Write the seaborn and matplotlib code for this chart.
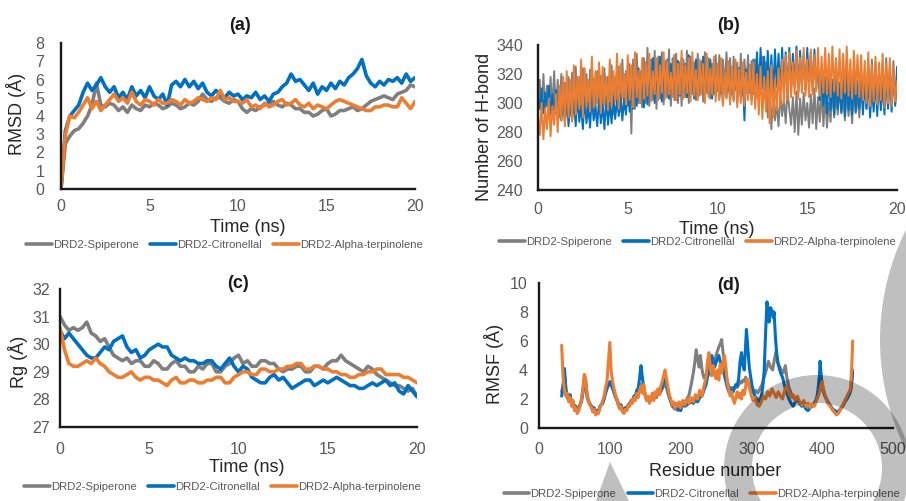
import numpy as np
import pandas as pd
import matplotlib
matplotlib.use('Agg')
import matplotlib.pyplot as plt
import seaborn as sns
from matplotlib.lines import Line2D
from matplotlib.patches import Wedge, Polygon

series_names = ['DRD2-Spiperone', 'DRD2-Citronellal', 'DRD2-Alpha-terpinolene']
series_colors = ['#7F7F7F', '#0070C0', '#ED7D31']

# (a) RMSD, one value every 0.25 ns
time_a = np.linspace(0, 20, 81)
rmsd_spiperone = [0, 2.5, 2.9, 3.2, 3.3, 3.6, 4.0, 4.6, 5.8, 4.6,
                  4.5, 4.7, 4.6, 4.3, 4.5, 4.2, 4.6, 4.4, 4.3, 4.6,
                  4.5, 4.7, 4.6, 4.4, 4.5, 4.7, 4.6, 4.4, 4.5, 4.7,
                  4.6, 4.8, 5.2, 4.9, 4.8, 5.0, 5.0, 4.8, 4.7, 4.9,
                  4.8, 4.4, 4.2, 4.4, 4.3, 4.5, 4.6, 4.7, 4.8, 4.6,
                  4.5, 4.7, 4.6, 4.4, 4.4, 4.2, 4.2, 4.0, 4.1, 4.3,
                  4.4, 4.0, 4.1, 4.3, 4.3, 4.4, 4.5, 4.3, 4.4, 4.6,
                  4.8, 4.9, 5.0, 5.1, 5.0, 4.9, 5.2, 5.3, 5.4, 5.7,
                  5.6]
rmsd_citronellal = [0, 3.2, 4.0, 4.3, 4.6, 5.3, 5.8, 5.4, 5.7, 6.1,
                    5.6, 5.3, 5.6, 5.0, 5.3, 4.9, 5.6, 5.1, 5.4, 5.0,
                    5.6, 5.1, 4.9, 5.2, 4.6, 5.7, 5.9, 5.6, 6.0, 5.6,
                    5.9, 5.5, 5.8, 5.3, 5.1, 5.4, 5.2, 5.0, 5.3, 5.1,
                    5.2, 4.9, 5.1, 5.0, 5.3, 4.9, 5.1, 4.8, 5.2, 5.3,
                    5.6, 5.8, 6.3, 5.9, 6.0, 5.7, 5.4, 5.8, 5.2, 5.6,
                    5.4, 5.8, 5.5, 5.9, 5.7, 6.1, 6.3, 6.6, 7.1, 6.2,
                    5.8, 5.6, 5.9, 5.7, 6.0, 5.9, 6.1, 5.8, 6.3, 5.9,
                    6.1]
rmsd_terpinolene = [0, 3.0, 4.0, 3.9, 4.2, 4.6, 5.0, 4.4, 4.8, 4.3,
                    4.6, 4.9, 5.2, 4.8, 5.0, 4.7, 5.3, 4.8, 4.6, 4.9,
                    4.8, 4.6, 4.9, 4.7, 4.7, 4.9, 4.8, 4.6, 4.9, 4.7,
                    4.8, 5.0, 4.9, 4.8, 5.0, 4.9, 5.4, 4.9, 5.0, 4.8,
                    4.8, 4.7, 4.9, 4.5, 4.6, 4.4, 4.7, 4.5, 4.6, 4.8,
                    4.9, 4.6, 4.7, 4.9, 4.6, 4.5, 4.7, 4.4, 4.6, 4.5,
                    4.4, 4.6, 4.8, 4.9, 4.8, 4.7, 4.6, 4.5, 4.4, 4.3,
                    4.3, 4.5, 4.5, 4.6, 4.6, 4.5, 4.5, 5.0, 4.7, 4.4,
                    4.8]

# (b) number of H-bonds, one value every 0.1 ns
time_b = np.linspace(0, 20, 201)
hbond_spiperone = [298, 316, 292, 320, 295, 312, 290, 318, 296, 322,
                   293, 316, 290, 320, 297, 314, 291, 318, 294, 321,
                   293, 325, 298, 318, 292, 324, 295, 320, 290, 323,
                   296, 317, 292, 322, 298, 319, 291, 324, 295, 318,
                   297, 326, 292, 318, 300, 325, 294, 330, 296, 322,
                   298, 327, 279, 330, 296, 334, 300, 322, 297, 331,
                   300, 338, 298, 330, 302, 336, 296, 332, 303, 335,
                   299, 329, 304, 337, 298, 331, 302, 334, 300, 328,
                   298, 330, 304, 336, 300, 332, 306, 328, 302, 334,
                   305, 329, 301, 335, 307, 331, 303, 327, 306, 333,
                   308, 333, 306, 330, 310, 335, 308, 331, 306, 332,
                   309, 328, 307, 334, 305, 330, 310, 333, 307, 329,
                   306, 330, 304, 326, 309, 332, 305, 328, 290, 310,
                   282, 305, 288, 300, 284, 307, 291, 303, 286, 309,
                   296, 285, 304, 280, 308, 278, 303, 285, 307, 288,
                   300, 283, 306, 286, 310, 282, 304, 287, 309, 284,
                   305, 283, 300, 287, 310, 290, 306, 292, 311, 294,
                   303, 288, 308, 291, 304, 286, 309, 293, 306, 290,
                   312, 298, 320, 296, 326, 300, 330, 298, 328, 303,
                   322, 299, 327, 301, 331, 297, 324, 302, 329, 300,
                   312]
hbond_citronellal = [305, 296, 310, 293, 307, 298, 312, 292, 306, 295,
                     309, 290, 304, 288, 301, 286, 306, 284, 300, 288,
                     302, 284, 306, 287, 298, 282, 304, 286, 300, 283,
                     305, 288, 297, 284, 303, 286, 299, 282, 304, 285,
                     300, 286, 305, 289, 302, 291, 306, 288, 303, 292,
                     316, 294, 322, 296, 318, 298, 324, 300, 320, 297,
                     328, 299, 322, 302, 331, 300, 326, 304, 332, 301,
                     325, 305, 330, 303, 327, 306, 333, 302, 329, 305,
                     331, 306, 327, 304, 333, 307, 326, 303, 330, 305,
                     328, 308, 332, 304, 326, 306, 330, 303, 327, 305,
                     325, 303, 328, 300, 322, 304, 326, 301, 323, 302,
                     327, 300, 324, 303, 321, 288, 323, 305, 326, 302,
                     330, 308, 335, 306, 338, 310, 332, 307, 336, 309,
                     333, 306, 337, 311, 334, 308, 338, 310, 335, 307,
                     338, 310, 334, 312, 339, 308, 336, 311, 333, 309,
                     338, 312, 335, 308, 337, 310, 326, 302, 320, 298,
                     318, 293, 320, 295, 316, 292, 319, 296, 314, 293,
                     318, 291, 321, 295, 316, 292, 319, 294, 315, 296,
                     318, 292, 314, 296, 317, 290, 312, 294, 316, 291,
                     319, 295, 313, 292, 317, 296, 320, 294, 322, 298,
                     325]
hbond_terpinolene = [290, 278, 300, 275, 296, 282, 303, 277, 298, 285,
                     306, 280, 312, 288, 318, 284, 322, 290, 316, 287,
                     326, 292, 318, 296, 330, 290, 324, 298, 316, 294,
                     332, 297, 322, 300, 328, 293, 325, 299, 318, 295,
                     330, 298, 322, 301, 334, 296, 327, 303, 320, 299,
                     333, 302, 326, 297, 335, 304, 322, 300, 331, 303,
                     328, 305, 334, 301, 322, 306, 331, 302, 326, 307,
                     335, 303, 329, 306, 321, 304, 333, 302, 327, 306,
                     336, 303, 326, 307, 331, 301, 335, 305, 323, 302,
                     330, 306, 327, 300, 334, 304, 324, 306, 332, 301,
                     327, 302, 331, 298, 322, 303, 329, 299, 325, 301,
                     330, 297, 323, 300, 328, 298, 321, 302, 326, 299,
                     328, 296, 320, 292, 325, 289, 318, 294, 322, 286,
                     326, 290, 316, 295, 324, 298, 330, 300, 333, 302,
                     335, 304, 328, 306, 336, 303, 331, 307, 338, 305,
                     330, 304, 337, 306, 333, 308, 338, 305, 332, 307,
                     338, 306, 334, 304, 339, 308, 331, 305, 337, 303,
                     334, 307, 339, 305, 330, 303, 336, 306, 333, 304,
                     333, 302, 329, 300, 335, 298, 326, 301, 332, 299,
                     328, 302, 334, 297, 327, 300, 331, 298, 325, 301,
                     315]

# (c) radius of gyration, one value every 0.25 ns
time_c = np.linspace(0, 20, 81)
rg_spiperone = [31.0, 30.7, 30.5, 30.6, 30.5, 30.6, 30.8, 30.4, 30.3, 30.1,
                30.2, 29.9, 29.6, 29.5, 29.4, 29.5, 29.3, 29.4, 29.4, 29.2,
                29.2, 29.4, 29.3, 29.1, 29.1, 29.3, 29.4, 29.2, 29.2, 29.0,
                29.0, 29.2, 29.1, 29.3, 29.3, 29.0, 29.0, 29.2, 29.3, 29.5,
                29.6, 29.3, 29.4, 29.2, 29.2, 29.4, 29.4, 29.3, 29.3, 29.1,
                29.0, 29.1, 29.1, 29.2, 29.2, 29.0, 29.0, 29.2, 29.2, 29.1,
                29.3, 29.4, 29.4, 29.6, 29.4, 29.3, 29.2, 29.1, 29.0, 29.2,
                29.1, 28.9, 28.8, 28.7, 28.6, 28.5, 28.5, 28.4, 28.3, 28.4,
                28.1]
rg_citronellal = [30.5, 30.2, 30.4, 30.2, 30.0, 29.8, 29.6, 29.5, 29.5, 29.7,
                  29.9, 29.8, 30.1, 30.2, 30.3, 29.9, 29.7, 29.8, 29.5, 29.6,
                  29.8, 29.9, 30.0, 29.9, 29.9, 29.6, 29.5, 29.4, 29.5, 29.4,
                  29.4, 29.3, 29.3, 29.4, 29.4, 29.2, 29.1, 29.3, 29.5, 29.2,
                  29.0, 29.2, 29.1, 28.8, 28.7, 28.6, 28.6, 28.8, 28.9, 28.7,
                  28.8, 28.6, 28.4, 28.5, 28.6, 28.7, 28.7, 28.5, 28.6, 28.7,
                  28.6, 28.7, 28.8, 28.7, 28.6, 28.5, 28.5, 28.4, 28.4, 28.5,
                  28.6, 28.5, 28.6, 28.7, 28.5, 28.6, 28.3, 28.2, 28.5, 28.3,
                  28.1]
rg_terpinolene = [30.6, 29.8, 29.3, 29.2, 29.2, 29.3, 29.4, 29.3, 29.5, 29.3,
                  29.2, 29.0, 28.9, 28.8, 28.8, 28.9, 29.0, 28.8, 28.7, 28.8,
                  28.8, 28.7, 28.7, 28.6, 28.5, 28.7, 28.8, 28.6, 28.6, 28.7,
                  28.7, 28.6, 28.6, 28.7, 28.7, 28.8, 28.8, 28.6, 28.6, 28.8,
                  28.9, 29.0, 29.0, 28.9, 28.9, 29.1, 29.1, 29.0, 29.0, 29.1,
                  29.1, 29.2, 29.2, 29.3, 29.3, 29.1, 29.1, 29.2, 29.2, 29.1,
                  29.1, 29.0, 29.0, 28.9, 28.9, 28.8, 28.8, 28.9, 28.9, 29.0,
                  29.0, 29.1, 29.1, 28.9, 28.9, 28.9, 28.9, 28.8, 28.8, 28.7,
                  28.6]

# (d) RMSF per residue, (residue, value)
rmsf_spiperone = [(32, 2.5), (34, 3.0), (36, 3.8), (38, 2.7), (40, 2.2), (42, 2.0), (44, 2.2), (46, 1.8), (48, 1.8),
                  (50, 1.5), (52, 1.5), (54, 1.2), (56, 1.3), (58, 1.6), (60, 2.0), (62, 2.7), (64, 3.5), (66, 3.2),
                  (68, 2.3), (70, 1.9), (72, 1.7), (74, 1.5), (76, 1.2), (78, 1.3), (80, 1.0), (82, 1.1), (84, 1.1),
                  (86, 1.4), (88, 1.6), (90, 1.8), (92, 2.1), (94, 2.5), (96, 2.8), (98, 3.0), (100, 3.0), (102, 2.9),
                  (104, 2.7), (106, 2.4), (108, 2.1), (110, 1.9), (112, 1.6), (114, 1.4), (116, 1.5), (118, 1.2),
                  (120, 1.1), (122, 1.3), (124, 1.3), (126, 1.5), (128, 1.6), (130, 1.8), (132, 1.8), (134, 2.1),
                  (136, 2.0), (138, 2.4), (140, 2.4), (142, 2.8), (144, 3.0), (146, 2.8), (148, 2.6), (150, 2.2),
                  (152, 1.9), (154, 2.0), (156, 1.8), (158, 1.9), (160, 2.1), (162, 2.0), (164, 2.2), (166, 2.1),
                  (168, 2.4), (170, 2.3), (172, 2.5), (174, 2.7), (176, 2.9), (178, 3.0), (180, 2.8), (182, 2.4),
                  (184, 2.1), (186, 1.8), (188, 1.5), (190, 1.4), (192, 1.3), (194, 1.4), (196, 1.2), (198, 1.3),
                  (200, 1.2), (203, 1.6), (206, 1.8), (209, 2.0), (212, 2.3), (215, 3.0), (218, 3.8), (220, 4.5),
                  (222, 5.4), (224, 4.8), (226, 4.2), (228, 5.0), (230, 4.1), (232, 3.6), (234, 3.4), (236, 3.7),
                  (238, 4.0), (240, 4.3), (242, 4.1), (244, 4.5), (246, 4.8), (248, 4.4), (250, 5.0), (252, 5.3),
                  (254, 5.6), (256, 5.8), (258, 6.1), (260, 5.2), (262, 4.5), (264, 3.8), (266, 3.2), (268, 2.9),
                  (270, 2.6), (272, 2.8), (274, 2.5), (276, 2.7), (278, 2.9), (280, 2.8), (282, 3.0), (284, 3.2),
                  (286, 3.1), (288, 3.3), (290, 3.2), (292, 3.5), (294, 3.3), (296, 3.0), (298, 2.8), (300, 2.5),
                  (303, 2.4), (306, 2.6), (309, 2.4), (312, 2.7), (315, 3.0), (318, 3.5), (321, 4.0), (324, 4.6),
                  (327, 4.2), (330, 4.0), (332, 4.6), (335, 5.3), (337, 4.5), (340, 4.2), (342, 4.0), (345, 3.8),
                  (348, 4.3), (350, 3.5), (353, 2.8), (356, 2.4), (359, 2.1), (362, 2.0), (365, 1.9), (368, 1.8),
                  (371, 1.7), (374, 1.6), (377, 1.5), (380, 1.5), (383, 1.6), (386, 1.6), (389, 1.7), (392, 2.0),
                  (395, 2.4), (398, 2.9), (400, 3.0), (402, 2.6), (405, 2.1), (408, 1.8), (411, 1.6), (414, 1.3),
                  (417, 1.1), (420, 1.0), (423, 1.1), (426, 1.3), (429, 1.5), (432, 1.8), (435, 2.0), (438, 2.3),
                  (441, 2.7), (443, 4.0)]
rmsf_citronellal = [(32, 2.2), (34, 2.8), (36, 4.1), (38, 2.6), (40, 2.1), (42, 1.9), (44, 2.3), (46, 1.7), (48, 1.8),
                    (50, 1.4), (52, 1.5), (54, 1.2), (56, 1.3), (58, 1.6), (60, 1.8), (62, 2.4), (64, 3.2), (66, 3.0),
                    (68, 2.1), (70, 1.8), (72, 1.6), (74, 1.5), (76, 1.3), (78, 1.4), (80, 1.1), (82, 1.2), (84, 1.2),
                    (86, 1.5), (88, 1.6), (90, 1.7), (92, 2.0), (94, 2.4), (96, 2.7), (98, 3.0), (100, 3.2), (102, 3.0),
                    (104, 2.8), (106, 2.5), (108, 2.2), (110, 2.0), (112, 1.7), (114, 1.5), (116, 1.6), (118, 1.3),
                    (120, 1.2), (122, 1.4), (124, 1.4), (126, 1.6), (128, 1.7), (130, 1.9), (132, 1.9), (134, 2.2),
                    (136, 2.2), (138, 2.6), (140, 2.7), (142, 3.4), (144, 4.3), (146, 3.5), (148, 2.7), (150, 2.3),
                    (152, 2.0), (154, 2.1), (156, 1.8), (158, 2.0), (160, 2.2), (162, 2.0), (164, 2.3), (166, 2.2),
                    (168, 2.5), (170, 2.4), (172, 2.6), (174, 2.8), (176, 3.2), (178, 3.5), (180, 3.1), (182, 2.6),
                    (184, 2.2), (186, 1.9), (188, 1.6), (190, 1.5), (192, 1.4), (194, 1.5), (196, 1.3), (198, 1.4),
                    (200, 1.2), (203, 1.8), (206, 1.5), (209, 1.6), (212, 1.7), (215, 1.8), (218, 1.7), (221, 1.9),
                    (224, 1.8), (227, 2.1), (230, 2.2), (233, 2.6), (236, 3.0), (238, 3.5), (240, 3.8), (242, 4.3),
                    (244, 5.0), (246, 4.6), (248, 4.2), (250, 4.5), (252, 4.8), (254, 5.0), (256, 4.6), (258, 4.2),
                    (260, 4.0), (262, 3.6), (264, 3.2), (266, 2.8), (268, 2.5), (270, 2.4), (272, 2.7), (274, 2.5),
                    (276, 2.8), (278, 3.0), (280, 2.9), (282, 3.4), (284, 4.6), (286, 5.2), (288, 4.3), (290, 4.0),
                    (292, 5.8), (293, 6.8), (295, 5.5), (297, 4.2), (299, 3.5), (301, 2.9), (303, 2.5), (305, 2.2),
                    (308, 2.0), (311, 1.8), (314, 2.2), (316, 2.8), (318, 3.9), (320, 6.5), (322, 8.7), (324, 7.8),
                    (325, 7.3), (327, 8.3), (329, 8.1), (331, 7.6), (332, 8.0), (334, 6.2), (336, 5.0), (338, 4.4),
                    (340, 4.0), (342, 3.7), (344, 3.5), (346, 3.1), (348, 2.7), (350, 2.4), (353, 2.0), (356, 1.7),
                    (359, 1.5), (362, 1.8), (365, 2.0), (368, 1.7), (371, 1.5), (374, 1.6), (377, 1.3), (380, 1.2),
                    (383, 1.4), (386, 1.5), (389, 1.7), (392, 2.0), (394, 2.6), (396, 3.6), (397, 4.6), (399, 3.4),
                    (401, 2.6), (403, 2.3), (406, 2.0), (409, 1.7), (412, 1.5), (415, 1.3), (418, 1.2), (421, 1.1),
                    (424, 1.2), (427, 1.4), (430, 1.6), (433, 1.9), (436, 2.1), (439, 2.4), (441, 2.9), (443, 3.8)]
rmsf_terpinolene = [(32, 5.7), (34, 3.5), (36, 2.6), (38, 2.2), (40, 2.4), (42, 1.8), (44, 2.1), (46, 1.5), (48, 1.9),
                    (50, 1.2), (52, 1.4), (54, 1.0), (56, 1.2), (58, 1.5), (60, 1.9), (62, 2.6), (64, 3.7), (66, 3.4),
                    (68, 2.2), (70, 1.9), (72, 1.6), (74, 1.4), (76, 1.1), (78, 1.3), (80, 0.9), (82, 1.1), (84, 1.0),
                    (86, 1.4), (88, 1.6), (90, 1.9), (92, 2.2), (94, 2.8), (96, 3.2), (98, 4.6), (100, 5.9), (102, 3.9),
                    (104, 3.2), (106, 2.7), (108, 2.3), (110, 2.0), (112, 1.6), (114, 1.3), (116, 1.5), (118, 1.1),
                    (120, 1.0), (122, 1.3), (124, 1.2), (126, 1.6), (128, 1.5), (130, 1.9), (132, 1.7), (134, 2.1),
                    (136, 1.9), (138, 2.4), (140, 2.1), (142, 2.6), (144, 2.9), (146, 2.4), (148, 3.0), (150, 2.3),
                    (152, 1.9), (154, 2.2), (156, 1.7), (158, 2.0), (160, 2.4), (162, 1.9), (164, 2.5), (166, 2.2),
                    (168, 2.7), (170, 2.3), (172, 2.9), (174, 3.2), (176, 3.6), (178, 4.0), (180, 3.4), (182, 2.8),
                    (184, 2.3), (186, 2.0), (188, 1.6), (190, 1.8), (192, 1.4), (194, 1.7), (196, 1.5), (198, 1.8),
                    (200, 1.4), (203, 1.9), (206, 1.6), (209, 2.0), (212, 1.7), (215, 2.1), (218, 1.8), (221, 2.3),
                    (224, 2.0), (227, 2.6), (230, 2.2), (233, 2.9), (236, 3.5), (238, 4.6), (240, 5.2), (242, 4.1),
                    (244, 3.6), (246, 4.3), (248, 3.7), (250, 3.4), (252, 4.0), (254, 3.3), (256, 4.4), (258, 3.8),
                    (260, 4.6), (262, 5.0), (264, 4.2), (266, 3.1), (268, 2.6), (270, 2.2), (272, 2.5), (274, 2.0),
                    (276, 1.7), (278, 2.1), (280, 2.5), (282, 2.1), (284, 2.4), (286, 2.0), (288, 2.6), (290, 2.3),
                    (292, 2.9), (294, 3.4), (296, 3.1), (298, 2.6), (300, 2.2), (302, 1.9), (305, 2.1), (308, 1.6),
                    (311, 1.5), (314, 1.8), (317, 2.2), (320, 2.0), (323, 2.5), (326, 2.2), (329, 2.7), (332, 2.4),
                    (335, 2.1), (338, 2.5), (341, 2.2), (344, 2.0), (347, 2.6), (350, 2.9), (353, 2.4), (356, 2.1),
                    (359, 2.3), (362, 1.9), (365, 2.2), (368, 1.8), (371, 1.6), (374, 1.9), (377, 1.5), (380, 1.7),
                    (383, 1.4), (386, 1.6), (389, 1.5), (392, 1.9), (395, 2.3), (398, 2.9), (400, 3.2), (402, 2.6),
                    (405, 2.1), (408, 1.7), (411, 1.5), (414, 1.3), (417, 1.1), (420, 0.9), (423, 1.0), (426, 1.3),
                    (429, 1.6), (432, 1.9), (435, 2.2), (438, 2.5), (440, 2.7), (442, 4.5), (443, 6.0)]


def long_df(x, ys):
    frames = [pd.DataFrame({'x': x, 'value': y, 'series': name}) for name, y in zip(series_names, ys)]
    return pd.concat(frames, ignore_index=True)


def pairs_df(all_pairs):
    frames = [pd.DataFrame(p, columns=['x', 'value']).assign(series=name) for name, p in zip(series_names, all_pairs)]
    return pd.concat(frames, ignore_index=True)


sns.set_style('white')
plt.rcParams['font.family'] = ['Liberation Sans', 'DejaVu Sans']

W, H = 906, 501
fig = plt.figure(figsize=(W / 100, H / 100), dpi=100)


def px_axes(left, top, right, bottom):
    return fig.add_axes([left / W, 1 - bottom / H, (right - left) / W, (bottom - top) / H])


def draw(ax, df, lw):
    sns.lineplot(data=df, x='x', y='value', hue='series', hue_order=series_names, palette=series_colors,
                 linewidth=lw, estimator=None, errorbar=None, sort=False, legend=False, ax=ax)


def style(ax, xlim, xticks, ylim, yticks, xlabel, ylabel, xpad, ypad, xlab_pos, ylab_pos, leg_pos):
    ax.set_xlim(xlim)
    ax.set_ylim(ylim)
    ax.set_xticks(xticks)
    ax.set_yticks(yticks)
    ax.tick_params(length=0, labelsize=11.5, labelcolor='#595959')
    ax.tick_params(axis='x', pad=xpad)
    ax.tick_params(axis='y', pad=ypad)
    for s in ['top', 'right']:
        ax.spines[s].set_visible(False)
    for s in ['left', 'bottom']:
        ax.spines[s].set_color('#1a1a1a')
        ax.spines[s].set_linewidth(1.7)
    ax.set_xlabel(xlabel, fontsize=13, color='#262626')
    ax.xaxis.set_label_coords(*xlab_pos)
    ax.xaxis.label.set_va('center')
    ax.set_ylabel(ylabel, fontsize=13, color='#262626')
    ax.yaxis.set_label_coords(*ylab_pos)
    ax.yaxis.label.set_va('center')
    handles = [Line2D([], [], color=c, linewidth=2.6) for c in series_colors]
    ax.legend(handles, series_names, loc='center', bbox_to_anchor=leg_pos, ncol=3, frameon=False,
              fontsize=8.1, handlelength=2.3, handletextpad=0.1, columnspacing=1.0, labelcolor='#595959')


ax_a = px_axes(61, 43, 415, 189)
draw(ax_a, long_df(time_a, [rmsd_spiperone, rmsd_citronellal, rmsd_terpinolene]), 2.6)
style(ax_a, (0, 20), [0, 5, 10, 15, 20], (0, 8), range(0, 9), 'Time (ns)', 'RMSD (Å)',
      7, 12, (0.527, -0.267), (-0.127, 0.514), (0.462, -0.384))

ax_b = px_axes(538, 45, 897, 190)
draw(ax_b, long_df(time_b, [hbond_spiperone, hbond_citronellal, hbond_terpinolene]), 1.4)
style(ax_b, (0, 20), [0, 5, 10, 15, 20], (240, 340), range(240, 341, 20), 'Time (ns)', 'Number of H-bond',
      9, 11, (0.499, -0.269), (-0.150, 0.434), (0.445, -0.36))

ax_c = px_axes(60, 289, 417, 427)
draw(ax_c, long_df(time_c, [rg_spiperone, rg_citronellal, rg_terpinolene]), 2.6)
style(ax_c, (0, 20), [0, 5, 10, 15, 20], (27, 32), range(27, 33), 'Time (ns)', 'Rg (Å)',
      11, 7, (0.524, -0.297), (-0.119, 0.47), (0.455, -0.435))

ax_d = px_axes(539, 283, 893, 428)
draw(ax_d, pairs_df([rmsf_spiperone, rmsf_citronellal, rmsf_terpinolene]), 2.2)
style(ax_d, (0, 500), range(0, 501, 100), (0, 10), range(0, 11, 2), 'Residue number', 'RMSF (Å)',
      10, 8, (0.497, -0.303), (-0.127, 0.44), (0.46, -0.455))

for label, x, y in [('(a)', 240, 25), ('(b)', 728, 25), ('(c)', 238, 283), ('(d)', 728, 285)]:
    fig.text(x / W, 1 - y / H, label, ha='center', va='center', fontsize=13, fontweight='bold', color='#1a1a1a')

# grey watermark shapes in the lower right
wm = dict(facecolor='black', alpha=0.25, edgecolor='none', transform=fig.dpi_scale_trans)
fig.patches.append(Wedge((8.17, (H - 468) / 100), 0.93, 0, 360, width=0.28, **wm))
fig.patches.append(Wedge((11.27, (H - 340) / 100), 2.47, 0, 360, width=0.35, **wm))
fig.patches.append(Polygon([(6.10, (H - 462) / 100), (5.96, 0), (6.29, 0)], **wm))

fig.savefig('out.png', dpi=100)
